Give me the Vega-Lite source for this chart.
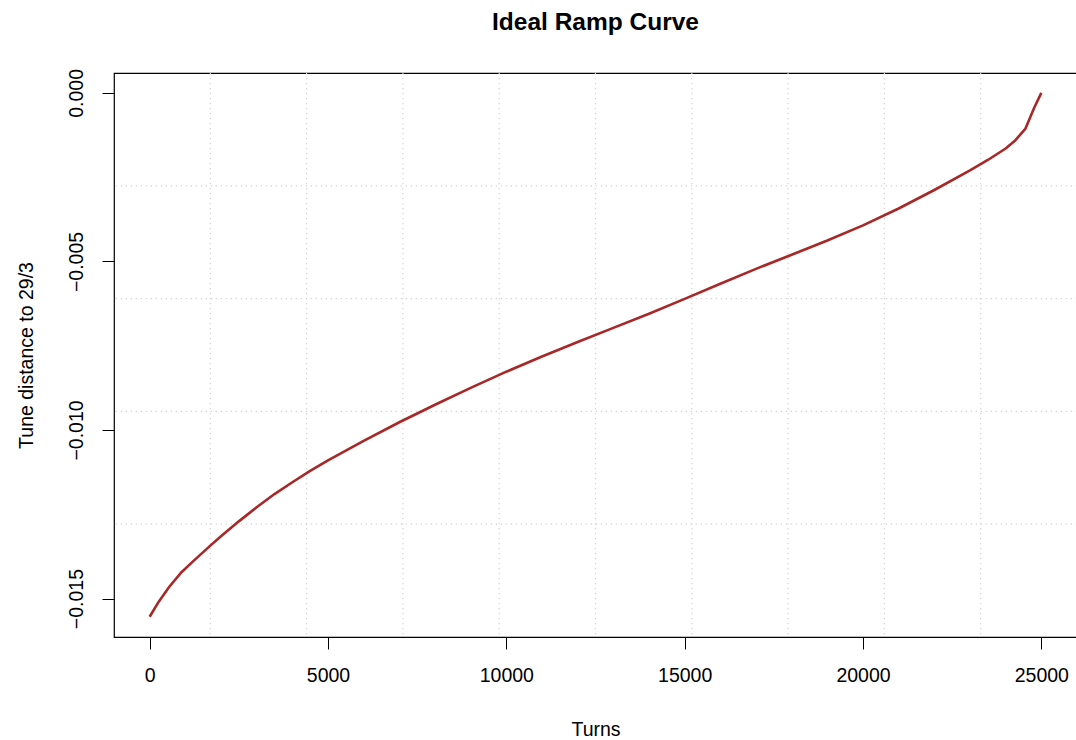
{
  "$schema": "https://vega.github.io/schema/vega-lite/v6.json",
  "autosize": {"type": "none"},
  "width": 963,
  "height": 564,
  "padding": {"left": 114, "top": 73, "right": 0, "bottom": 103},
  "background": "white",
  "config": {
    "font": "Liberation Sans",
    "view": {"stroke": "black", "strokeWidth": 1.2}
  },
  "title": {
    "text": "Ideal Ramp Curve",
    "font": "Liberation Sans",
    "fontSize": 24.5,
    "fontWeight": "bold",
    "color": "black",
    "anchor": "middle",
    "frame": "group",
    "baseline": "alphabetic",
    "offset": 14
  },
  "datasets": {
    "ramp": [
      {"turns": 0, "tune": -0.01554},
      {"turns": 250, "tune": -0.0151},
      {"turns": 550, "tune": -0.01465},
      {"turns": 900, "tune": -0.01421},
      {"turns": 1200, "tune": -0.01391},
      {"turns": 1700, "tune": -0.01343},
      {"turns": 2000, "tune": -0.01315},
      {"turns": 2500, "tune": -0.01271},
      {"turns": 3000, "tune": -0.01229},
      {"turns": 3500, "tune": -0.0119},
      {"turns": 4000, "tune": -0.01155},
      {"turns": 4500, "tune": -0.01121},
      {"turns": 5000, "tune": -0.0109},
      {"turns": 6000, "tune": -0.01032},
      {"turns": 7000, "tune": -0.00977},
      {"turns": 8000, "tune": -0.00925},
      {"turns": 9000, "tune": -0.00875},
      {"turns": 10000, "tune": -0.00827},
      {"turns": 11000, "tune": -0.00782},
      {"turns": 12000, "tune": -0.00739},
      {"turns": 13000, "tune": -0.00697},
      {"turns": 14000, "tune": -0.00655},
      {"turns": 15000, "tune": -0.00611},
      {"turns": 16000, "tune": -0.00566},
      {"turns": 17000, "tune": -0.00522},
      {"turns": 18000, "tune": -0.0048},
      {"turns": 19000, "tune": -0.00438},
      {"turns": 20000, "tune": -0.00393},
      {"turns": 21000, "tune": -0.00343},
      {"turns": 22000, "tune": -0.00288},
      {"turns": 23000, "tune": -0.0023},
      {"turns": 23500, "tune": -0.00199},
      {"turns": 24000, "tune": -0.00165},
      {"turns": 24250, "tune": -0.00143},
      {"turns": 24550, "tune": -0.00107},
      {"turns": 24800, "tune": -0.00044},
      {"turns": 25000, "tune": 0.0}
    ],
    "xgrid": [
      {"turns": 1700}, {"turns": 4400}, {"turns": 7100}, {"turns": 9800}, {"turns": 12500},
      {"turns": 15200}, {"turns": 17900}, {"turns": 20600}, {"turns": 23300}
    ],
    "ygrid": [
      {"tune": -0.012794}, {"tune": -0.009448}, {"tune": -0.006102}, {"tune": -0.002756}
    ]
  },
  "encoding": {
    "x": {
      "field": "turns", "type": "quantitative",
      "scale": {"domain": [-1000, 26000], "nice": false, "zero": false},
      "axis": {
        "values": [0, 5000, 10000, 15000, 20000, 25000],
        "format": "d",
        "grid": false, "domain": false,
        "tickSize": 12, "tickColor": "black", "tickWidth": 1,
        "labelFont": "Liberation Sans", "labelFontSize": 19.5, "labelColor": "black",
        "labelPadding": 17, "labelBaseline": "top", "labelAlign": "center",
        "labelOverlap": false, "labelFlush": false,
        "title": "Turns", "titleFont": "Liberation Sans", "titleFontSize": 19.5,
        "titleFontWeight": "normal", "titleColor": "black",
        "titleBaseline": "alphabetic", "titleAlign": "center",
        "titleX": 481.5, "titleY": 98
      }
    },
    "y": {
      "field": "tune", "type": "quantitative",
      "scale": {"domain": [-0.01614, 0.00059], "nice": false, "zero": false},
      "axis": {
        "values": [-0.015, -0.01, -0.005, 0],
        "format": ".3f",
        "grid": false, "domain": false,
        "tickSize": 12, "tickColor": "black", "tickWidth": 1,
        "labelFont": "Liberation Sans", "labelFontSize": 19.5, "labelColor": "black",
        "labelAngle": 270, "labelAlign": "center", "labelBaseline": "alphabetic",
        "labelPadding": 20, "labelOverlap": false, "labelFlush": false,
        "title": "Tune distance to 29/3", "titleFont": "Liberation Sans", "titleFontSize": 19.5,
        "titleFontWeight": "normal", "titleColor": "black",
        "titleAngle": 270, "titleAlign": "center", "titleBaseline": "alphabetic",
        "titleX": -82, "titleY": 282
      }
    }
  },
  "layer": [
    {
      "data": {"name": "xgrid"},
      "mark": {"type": "rule", "color": "#d3d3d3", "strokeWidth": 1.2, "strokeDash": [1.3, 3.7]},
      "encoding": {"y": null}
    },
    {
      "data": {"name": "ygrid"},
      "mark": {"type": "rule", "color": "#d3d3d3", "strokeWidth": 1.2, "strokeDash": [1.3, 3.7]},
      "encoding": {"x": null}
    },
    {
      "data": {"name": "ramp"},
      "mark": {"type": "line", "color": "#A82828", "strokeWidth": 2.6, "strokeJoin": "round", "strokeCap": "butt"}
    }
  ]
}
